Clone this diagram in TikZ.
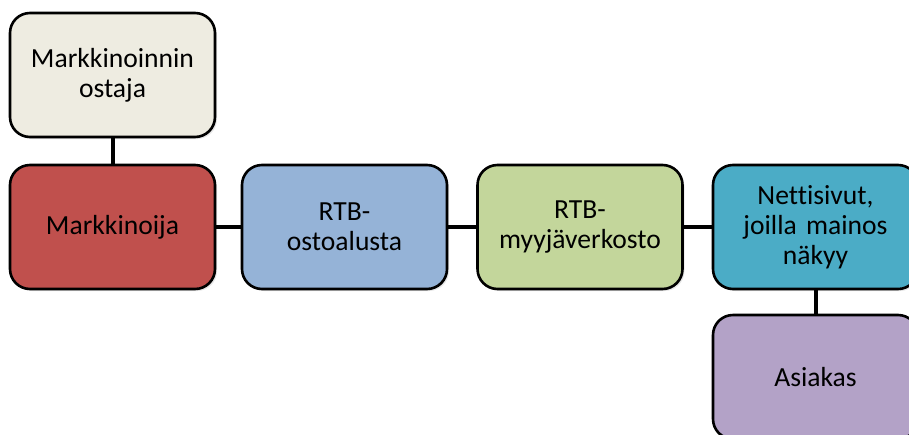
\documentclass[tikz,border=0pt]{standalone}
\usepackage{fontspec}
\setmainfont{Carlito}[Ligatures=NoCommon]
\usetikzlibrary{shadows}
\definecolor{paper}{HTML}{EEECE1}
\definecolor{brick}{HTML}{C0504D}
\definecolor{sky}{HTML}{95B3D7}
\definecolor{lime}{HTML}{C3D69B}
\definecolor{aqua}{HTML}{4BACC6}
\definecolor{lilac}{HTML}{B3A2C7}
\tikzset{
	box/.style={draw,line width=1.3pt,rectangle,rounded corners=10pt,align=center,
		minimum width=102.5pt,minimum height=62pt,text width=98pt,inner sep=0pt,
		font=\fontsize{13.8}{15}\selectfont,
		drop shadow={opacity=0.2,shadow xshift=1pt,shadow yshift=-1pt}},
	link/.style={line width=2pt}
}
\begin{document}
\begin{tikzpicture}[x=0.5pt,y=-0.5pt]
			\useasboundingbox (0,0) rectangle (909,434);
			\clip (0,0) rectangle (909,434);
			\node[box,fill=paper] (ostaja) at (112.5,75) {Markkinoinnin\\ostaja};
			\node[box,fill=brick] (mark) at (112.5,227) {Markkinoija};
			\node[box,fill=sky] (osto) at (344.5,227) {RTB-\\ostoalusta};
			\node[box,fill=lime] (myyja) at (580,227) {RTB-\\myyjäverkosto};
			\node[box,fill=aqua] (netti) at (815.5,227) {Nettisivut,\\joilla mainos\\näkyy};
			\node[box,fill=lilac] (asiakas) at (815.5,377) {Asiakas};
			
			\draw[link] (ostaja) -- (mark);
			\draw[link] (mark) -- (osto);
			\draw[link] (osto) -- (myyja);
			\draw[link] (myyja) -- (netti);
			\draw[link] (netti) -- (asiakas);
		\end{tikzpicture}
\end{document}
